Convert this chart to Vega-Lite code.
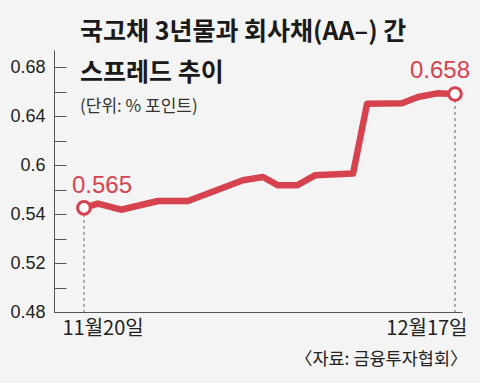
{
  "$schema": "https://vega.github.io/schema/vega-lite/v6.json",
  "width": 408,
  "height": 262,
  "autosize": {"type": "none"},
  "padding": {"left": 54, "top": 50, "right": 18, "bottom": 71},
  "background": "#f4f4f4",
  "config": {"view": {"stroke": null}},
  "title": {
    "text": ["국고채 3년물과 회사채(AA–) 간", "스프레드 추이"],
    "subtitle": "(단위: % 포인트)",
    "anchor": "start",
    "frame": "group",
    "orient": "top",
    "dx": 26,
    "offset": -65,
    "font": "Liberation Sans Narrow, Noto Sans CJK KR",
    "fontSize": 25,
    "fontWeight": "bold",
    "color": "#1a1a1a",
    "lineHeight": 41,
    "subtitleFont": "Noto Sans CJK KR",
    "subtitleFontSize": 17,
    "subtitleColor": "#333333",
    "subtitlePadding": 13
  },
  "data": {
    "values": [
      {"day": 0, "value": 0.565, "end": "first"},
      {"day": 1.02, "value": 0.5685, "end": ""},
      {"day": 2.69, "value": 0.5635, "end": ""},
      {"day": 5.39, "value": 0.5706, "end": ""},
      {"day": 7.57, "value": 0.5706, "end": ""},
      {"day": 11.57, "value": 0.5875, "end": ""},
      {"day": 13.03, "value": 0.5902, "end": ""},
      {"day": 14.12, "value": 0.5834, "end": ""},
      {"day": 15.5, "value": 0.5834, "end": ""},
      {"day": 16.81, "value": 0.5916, "end": ""},
      {"day": 19.58, "value": 0.593, "end": ""},
      {"day": 20.6, "value": 0.65, "end": ""},
      {"day": 23.14, "value": 0.6504, "end": ""},
      {"day": 24.31, "value": 0.6555, "end": ""},
      {"day": 25.69, "value": 0.6585, "end": ""},
      {"day": 27, "value": 0.658, "end": "last"}
    ]
  },
  "encoding": {
    "x": {
      "field": "day",
      "type": "quantitative",
      "scale": {"domain": [-2.18, 27.51], "nice": false, "zero": false},
      "axis": {
        "values": [0, 27],
        "labelExpr": "datum.value == 0 ? '11월20일' : '12월17일'",
        "ticks": false,
        "grid": false,
        "domainColor": "#555555",
        "labelFont": "Liberation Sans Narrow, Noto Sans CJK KR",
        "labelFontSize": 20,
        "labelColor": "#222222",
        "labelPadding": 6,
        "labelAlign": {"condition": {"test": "datum.value == 0", "value": "left"}, "value": "right"},
        "labelOffset": {"condition": {"test": "datum.value == 0", "value": -22}, "value": 12},
        "labelFlush": false,
        "title": "〈자료: 금융투자협회〉",
        "titleFont": "Noto Sans CJK KR",
        "titleFontSize": 17.5,
        "titleFontWeight": "normal",
        "titleColor": "#222222",
        "titleAnchor": "end",
        "titleAlign": "right",
        "titleBaseline": "middle",
        "titleX": 413,
        "titleY": 47
      }
    },
    "y": {
      "field": "value",
      "type": "quantitative",
      "scale": {"domain": [0.48, 0.6939], "nice": false, "zero": false},
      "axis": {
        "values": [0.48, 0.5, 0.52, 0.54, 0.56, 0.58, 0.6, 0.62, 0.64, 0.66, 0.68],
        "labelExpr": "round(datum.value*100) == 68 ? '0.68' : round(datum.value*100) == 64 ? '0.64' : round(datum.value*100) == 60 ? '0.6' : round(datum.value*100) == 56 ? '0.54' : round(datum.value*100) == 52 ? '0.52' : round(datum.value*100) == 48 ? '0.48' : ''",
        "tickSize": -12,
        "tickColor": "#555555",
        "domainColor": "#555555",
        "grid": false,
        "labelFont": "Liberation Sans Narrow, Liberation Sans",
        "labelFontSize": 18,
        "labelColor": "#222222",
        "labelPadding": 21,
        "labelBound": false,
        "labelAlign": "right",
        "title": null
      }
    }
  },
  "layer": [
    {
      "transform": [{"filter": "datum.end != ''"}],
      "mark": {"type": "rule", "color": "#666666", "strokeWidth": 1, "strokeDash": [3, 3]},
      "encoding": {"y2": {"datum": 0.48}}
    },
    {
      "mark": {"type": "line", "color": "#d6434f", "strokeWidth": 6.5, "strokeJoin": "round", "strokeCap": "round"}
    },
    {
      "transform": [{"filter": "datum.end != ''"}],
      "mark": {"type": "point", "filled": true, "fill": "#ffffff", "stroke": "#d6434f", "strokeWidth": 3, "size": 160, "opacity": 1}
    },
    {
      "transform": [{"filter": "datum.end == 'first'"}],
      "mark": {"type": "text", "align": "left", "baseline": "alphabetic", "dx": -12, "dy": -15, "font": "Liberation Sans Narrow, Liberation Sans", "fontSize": 24, "color": "#d6434f"},
      "encoding": {"text": {"field": "value", "type": "quantitative", "format": ".3f"}}
    },
    {
      "transform": [{"filter": "datum.end == 'last'"}],
      "mark": {"type": "text", "align": "right", "baseline": "alphabetic", "dx": 15, "dy": -16, "font": "Liberation Sans Narrow, Liberation Sans", "fontSize": 24, "color": "#d6434f"},
      "encoding": {"text": {"field": "value", "type": "quantitative", "format": ".3f"}}
    }
  ]
}
